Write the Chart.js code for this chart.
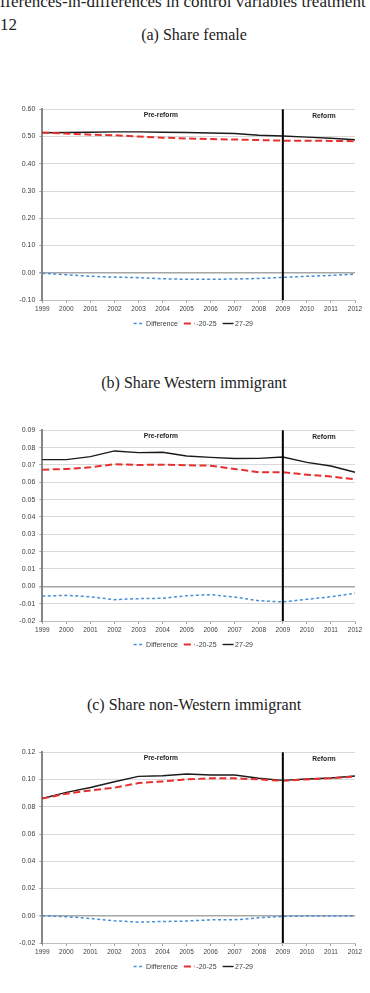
<!DOCTYPE html>
<html>
<head>
<meta charset="utf-8">
<script src="https://cdn.jsdelivr.net/npm/chart.js@4.4.0/dist/chart.umd.min.js"></script>
<style>
  body { margin: 0; background: #fff; width: 370px; height: 993px; overflow: hidden; position: relative; font-family: "Liberation Serif", serif; }
  .hdr { position: absolute; left: 0; top: -10px; font-size: 17px; line-height: 23px; white-space: nowrap; color: #222; }
  .ttl { position: absolute; left: 0; width: 388px; text-align: center; font-size: 16px; line-height: 20px; color: #222; white-space: nowrap; }
  .box { position: absolute; left: 0; width: 370px; height: 240px; }
</style>
</head>
<body>
<div class="hdr">fferences-in-differences in control variables treatment<br>12</div>

<div class="ttl" style="top:24.6px">(a) Share female</div>
<div class="box" style="top:95px"><canvas id="femaleChart"></canvas></div>

<div class="ttl" style="top:373px">(b) Share Western immigrant</div>
<div class="box" style="top:416.4px"><canvas id="westChart"></canvas></div>

<div class="ttl" style="top:694.6px">(c) Share non-Western immigrant</div>
<div class="box" style="top:738px"><canvas id="nonWestChart"></canvas></div>

<script>
// Years on the x axis
const years = ['1999', '2000', '2001', '2002', '2003', '2004', '2005', '2006', '2007', '2008', '2009', '2010', '2011', '2012'];
const seriesNames = ['Difference', '-20-25', '27-29'];

// (a) Share female
const femaleDiff = [-0.002, -0.007, -0.013, -0.016, -0.018, -0.022, -0.024, -0.024, -0.023, -0.021, -0.017, -0.013, -0.010, -0.005];
const female2025 = [0.515, 0.511, 0.507, 0.505, 0.500, 0.496, 0.493, 0.491, 0.489, 0.487, 0.485, 0.485, 0.484, 0.483];
const female2729 = [0.514, 0.515, 0.516, 0.517, 0.517, 0.516, 0.515, 0.513, 0.511, 0.505, 0.502, 0.498, 0.494, 0.488];

// (b) Share Western immigrant
const westDiff = [-0.0056, -0.0052, -0.0060, -0.0077, -0.0071, -0.0069, -0.0054, -0.0048, -0.0062, -0.0083, -0.0090, -0.0075, -0.0060, -0.0040];
const west2025 = [0.0673, 0.0677, 0.0687, 0.0704, 0.0700, 0.0702, 0.0698, 0.0696, 0.0677, 0.0658, 0.0658, 0.0644, 0.0633, 0.0617];
const west2729 = [0.0731, 0.0731, 0.0748, 0.0781, 0.0771, 0.0773, 0.0752, 0.0744, 0.0737, 0.0738, 0.0746, 0.0715, 0.0694, 0.0658];

// (c) Share non-Western immigrant
const nonWestDiff = [0.0000, -0.0007, -0.0020, -0.0037, -0.0047, -0.0042, -0.0039, -0.0030, -0.0030, -0.0015, -0.0005, -0.0002, -0.0002, -0.0002];
const nonWest2025 = [0.0861, 0.0896, 0.0920, 0.0940, 0.0974, 0.0986, 0.1001, 0.1009, 0.1009, 0.1001, 0.0991, 0.1001, 0.1009, 0.1023];
const nonWest2729 = [0.0861, 0.0906, 0.0942, 0.0984, 0.1023, 0.1028, 0.1041, 0.1033, 0.1033, 0.1009, 0.0994, 0.1004, 0.1011, 0.1026];

const reformYear = '2009';

// Reform divider, period labels and the legend
const reformPlugin = {
    id: 'reform',
    afterDatasetsDraw(chart) {
        const { ctx, chartArea, scales } = chart;
        const x = scales.x.getPixelForValue(years.indexOf(reformYear));
        ctx.save();
        ctx.strokeStyle = '#000';
        ctx.lineWidth = 2;
        ctx.beginPath();
        ctx.moveTo(x, chartArea.top);
        ctx.lineTo(x, chartArea.bottom);
        ctx.stroke();

        ctx.fillStyle = '#222';
        ctx.font = 'bold 6.7px "Liberation Sans"';
        ctx.textAlign = 'center';
        ctx.textBaseline = 'middle';
        ctx.fillText('Pre-reform', scales.x.getPixelForValue(4.93), chartArea.top + 6);
        ctx.fillText('Reform', scales.x.getPixelForValue(11.71), chartArea.top + 6.5);

        // legend
        ctx.font = '7px "Liberation Sans"';
        ctx.textAlign = 'left';
        const ly = chartArea.bottom + 23.5;
        const sample = 11, gap = 1.5, space = 6;
        const items = chart.data.datasets.map(ds => ({ ds, w: ctx.measureText(ds.label).width }));
        let total = items.reduce((s, it) => s + sample + gap + it.w, 0) + space * (items.length - 1);
        let lx = 193.3 - total / 2;
        items.forEach(it => {
            ctx.strokeStyle = it.ds.borderColor;
            ctx.lineWidth = it.ds.borderWidth;
            ctx.setLineDash(it.ds.borderDash || []);
            ctx.beginPath();
            ctx.moveTo(lx, ly);
            ctx.lineTo(lx + sample, ly);
            ctx.stroke();
            ctx.setLineDash([]);
            ctx.fillStyle = '#404040';
            ctx.fillText(it.ds.label, lx + sample + gap, ly + 0.5);
            lx += sample + gap + it.w + space;
        });
        ctx.restore();
    }
};

function makeChart(id, diff, young, old, yMin, yMax, step) {
    const ctx = document.getElementById(id).getContext('2d');
    return new Chart(ctx, {
        type: 'line',
        data: {
            labels: years,
            datasets: [{
                label: seriesNames[0],
                data: diff,
                borderColor: '#4a8fd6',
                borderWidth: 1.5,
                borderDash: [3, 2.5]
            }, {
                label: seriesNames[1],
                data: young,
                borderColor: '#e5302f',
                borderWidth: 2,
                borderDash: [7, 3.5]
            }, {
                label: seriesNames[2],
                data: old,
                borderColor: '#1a1a1a',
                borderWidth: 1.4
            }]
        },
        options: {
            responsive: true,
            maintainAspectRatio: false,
            animation: false,
            layout: { padding: { top: 14.3, right: 15, bottom: 0, left: 0 } },
            elements: { point: { radius: 0 }, line: { tension: 0 } },
            plugins: { legend: { display: false }, tooltip: { enabled: false } },
            scales: {
                x: {
                    afterFit(s) { s.height = 35; },
                    grid: { drawOnChartArea: false, drawTicks: true, tickLength: 3, color: '#a0a0a0' },
                    border: { color: '#bfbfbf', width: 1 },
                    ticks: {
                        color: '#404040',
                        font: { family: 'Liberation Sans', size: 6.5 },
                        padding: 2,
                        maxRotation: 0,
                        autoSkip: false
                    }
                },
                y: {
                    min: yMin,
                    max: yMax,
                    afterFit(s) { s.width = 42.3; },
                    grid: {
                        color: c => (c.tick && Math.abs(c.tick.value) < 1e-9) ? '#a6a6a6' : '#d9d9d9',
                        lineWidth: c => (c.tick && Math.abs(c.tick.value) < 1e-9) ? 1.5 : 1,
                        tickLength: 3,
                        tickColor: '#a0a0a0'
                    },
                    border: { color: '#868686', width: 2 },
                    ticks: {
                        stepSize: step,
                        color: '#404040',
                        padding: 4,
                        font: { family: 'Liberation Sans', size: 7 },
                        callback: v => (Math.abs(v) < 1e-9 ? 0 : v).toFixed(2)
                    }
                }
            }
        },
        plugins: [reformPlugin]
    });
}

makeChart('femaleChart', femaleDiff, female2025, female2729, -0.1, 0.6, 0.1);
makeChart('westChart', westDiff, west2025, west2729, -0.02, 0.09, 0.01);
makeChart('nonWestChart', nonWestDiff, nonWest2025, nonWest2729, -0.02, 0.12, 0.02);
</script>
</body>
</html>
